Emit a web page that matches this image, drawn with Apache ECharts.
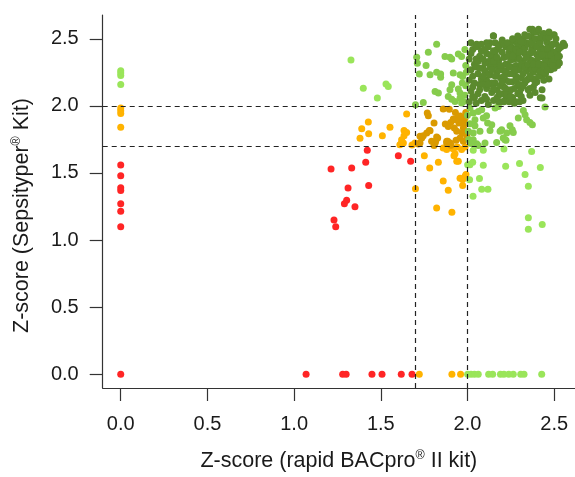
<!DOCTYPE html>
<html>
<head>
<meta charset="utf-8">
<script src="https://cdn.jsdelivr.net/npm/echarts@6/dist/echarts.min.js"></script>
<style>
html,body{margin:0;padding:0;background:#fff;}
#chart{width:575px;height:477px;}
</style>
</head>
<body>
<div id="chart"></div>
<script>
// Tick labels
const xTicks = [0, 0.5, 1.0, 1.5, 2.0, 2.5];
const yTicks = [0, 0.5, 1.0, 1.5, 2.0, 2.5];
// Cut-off lines
const xCutoffs = [1.7, 2.0];
const yCutoffs = [1.7, 2.0];
const xTitle = '{t|Z-score (rapid BACpro}{s|®}{t| II kit)}';
const yTitle = '{t|Z-score (Sepsityper}{s|®}{t| Kit)}';

// Points [rapid BACpro II z-score, Sepsityper z-score]
const redPts = [
  [0,1.56],[0,1.48],[0,1.39],[0,1.37],[0,1.27],[0,1.215],[0,1.10],[0,0],
  [1.069,0],[1.28,0],[1.30,0],[1.449,0],[1.507,0],[1.618,0],[1.68,0],
  [1.213,1.53],[1.332,1.538],[1.422,1.669],[1.413,1.58],[1.601,1.629],[1.672,1.587],
  [1.311,1.389],[1.43,1.406],[1.303,1.297],[1.29,1.27],[1.351,1.248],[1.23,1.149],[1.24,1.10]
];
const orangePts = [
  [0,1.984],[0,1.964],[0,1.944],[0,1.84],
  [1.722,0],[1.91,0],[1.96,0],
  [1.649,1.939],[1.428,1.88],[1.39,1.83],[1.43,1.793],[1.38,1.758],[1.509,1.778],[1.553,1.84],
  [1.634,1.817],[1.649,1.802],[1.634,1.778],[1.618,1.72],[1.68,1.709],[1.62,1.748],[1.63,1.724],
  [1.61,1.711],[1.697,1.724],
  [1.751,1.629],[1.832,1.58],[1.782,1.538],[1.70,1.382],[1.86,1.441],[1.889,1.371],[1.822,1.24],
  [1.91,1.208],[1.922,1.629],[1.938,1.587],[1.957,1.46],[1.972,1.451],[1.972,1.406],[1.986,1.475],
  [1.991,1.488],[1.909,1.686],[1.941,1.694],[1.986,1.694],[1.86,1.686],[1.88,1.674],[1.918,1.681],
  [1.966,1.674],[1.928,1.644],[1.947,1.587]
];
const goldPts = [
  [1.768,1.946],[1.774,1.926],[1.86,1.976],[1.807,1.872],[1.872,1.865],[1.889,1.847],[1.903,1.877],
  [1.918,1.902],[1.78,1.817],[1.765,1.798],[1.726,1.773],[1.745,1.778],[1.822,1.768],[1.813,1.724],
  [1.807,1.705],[1.88,1.736],[1.9,1.724],[1.928,1.897],[1.943,1.914],[1.966,1.904],[1.986,1.909],
  [1.951,1.872],[1.924,1.835],[1.976,1.835],[1.986,1.815],[1.97,1.798],[1.995,1.78],[1.784,1.815],
  [1.736,1.761],[1.828,1.761],[1.816,1.736],[1.886,1.736],[1.905,1.706],[1.938,1.81],[1.957,1.761],
  [1.976,1.736],[1.716,1.716],[1.895,1.975],[1.93,1.95],[1.958,1.925],[1.99,1.95],[1.985,1.87],
  [1.726,1.724],[1.793,1.736],[1.88,1.724],[1.934,1.743]
];
const lightGreenPts = [
  [0,2.261],[0,2.244],[0,2.226],[0,2.159],
  [1.328,2.342],[1.399,2.132],[1.48,2.058],[1.53,2.162],[1.543,2.144],
  [2.001,0],[2.02,0],[2.04,0],[2.062,0],[2.122,0],[2.145,0],[2.19,0],[2.21,0],[2.238,0],
  [2.264,0],[2.307,0],[2.326,0],[2.428,0],
  [2.033,1.669],[2.091,1.669],[2.21,1.679],[2.37,1.66],[2.014,1.562],[2.03,1.58],[2.001,1.562],
  [2.091,1.557],[2.22,1.55],[2.30,1.57],[2.42,1.54],[2.332,1.488],[2.012,1.449],[2.069,1.458],
  [2.082,1.378],[2.118,1.378],[2.351,1.401],[2.032,1.327],[2.351,1.166],[2.431,1.117],[2.351,1.08]
];
const midGreenPts = [
  [1.822,2.459],[1.774,2.40],[1.707,2.362],[1.711,2.318],[1.761,2.30],[1.87,2.367],[1.899,2.362],
  [1.909,2.35],[1.947,2.387],[1.966,2.367],[1.722,2.238],[1.784,2.231],[1.822,2.251],[1.845,2.238],
  [1.845,2.214],[1.918,2.244],[1.957,2.231],[1.972,2.218],[1.909,2.157],[1.899,2.12],[1.813,2.107],
  [1.832,2.095],[1.947,2.125],[1.957,2.095],[1.889,2.07],[1.909,2.05],[1.928,2.033],[1.957,2.058],
  [1.976,2.033],[1.966,2.021],[1.70,2.008],[1.745,2.025],[1.99,2.15],[1.985,2.08],[1.97,2.17],
  [1.99,2.30],[1.985,2.42],[1.993,2.25],
  [2.447,1.991],[2.322,1.966],[2.332,1.934],[2.293,1.909],[2.36,1.877],[2.374,1.86],[2.245,1.852],
  [2.258,1.822],[2.264,1.802],[2.197,1.822],[2.188,1.81],[2.116,1.872],[2.14,1.86],[2.11,1.926],
  [2.091,1.909],[2.033,1.946],[2.062,1.958],[2.082,1.971],[2.043,1.897],[2.014,1.867],[2.043,1.852],
  [2.005,1.81],[2.033,1.798],[2.072,1.81],[2.168,1.728],[2.216,1.748],[2.13,1.817],[2.053,1.718],
  [2.101,1.724],[2.014,1.984],[2.178,1.996],[2.159,1.984],[2.341,1.897],[2.226,1.798],[2.206,1.761],
  [2.0,1.93],[2.008,1.75],[2.02,1.72],[2.033,1.748],[2.062,1.704],[2.222,1.743]
];
const darkGreenPts = [
  [2.01,2.03],[2.02,2.11],[2.01,2.19],[2.02,2.27],[2.01,2.35],[2.03,2.42],[2.02,2.47],[2.04,2.06],[2.03,2.22],[2.04,2.31],
  [2.05,2.02],[2.06,2.09],[2.07,2.16],[2.06,2.24],[2.05,2.29],[2.07,2.37],[2.06,2.45],[2.08,2.04],[2.08,2.20],[2.09,2.28],[2.08,2.41],
  [2.10,2.07],[2.11,2.13],[2.12,2.01],[2.11,2.19],[2.10,2.26],[2.12,2.33],[2.11,2.39],[2.13,2.47],[2.13,2.23],[2.14,2.10],[2.15,2.52],[2.14,2.36],
  [2.15,2.04],[2.16,2.17],[2.17,2.25],[2.16,2.30],[2.17,2.42],[2.18,2.08],[2.18,2.34],[2.19,2.21],[2.19,2.46],[2.17,2.12],[2.16,2.38],
  [2.20,2.03],[2.21,2.14],[2.20,2.27],[2.22,2.19],[2.21,2.36],[2.22,2.44],[2.23,2.09],[2.23,2.31],[2.24,2.24],[2.24,2.40],[2.22,2.05],[2.20,2.49],
  [2.25,2.12],[2.26,2.18],[2.25,2.29],[2.27,2.35],[2.26,2.43],[2.28,2.03],[2.28,2.22],[2.27,2.48],[2.29,2.15],[2.29,2.38],[2.26,2.06],[2.28,2.30],
  [2.30,2.10],[2.31,2.21],[2.30,2.27],[2.32,2.33],[2.31,2.44],[2.32,2.50],[2.33,2.17],[2.33,2.39],[2.34,2.26],[2.34,2.47],[2.32,2.04],[2.31,2.13],
  [2.35,2.20],[2.36,2.29],[2.35,2.36],[2.37,2.42],[2.36,2.57],[2.38,2.14],[2.38,2.25],[2.37,2.51],[2.39,2.33],[2.39,2.45],[2.36,2.08],[2.38,2.55],
  [2.40,2.18],[2.41,2.27],[2.40,2.38],[2.42,2.31],[2.41,2.49],[2.43,2.22],[2.43,2.43],[2.44,2.36],[2.44,2.54],[2.42,2.06],[2.43,2.12],
  [2.45,2.24],[2.46,2.30],[2.45,2.41],[2.47,2.35],[2.46,2.47],[2.48,2.27],[2.48,2.44],[2.49,2.38],[2.50,2.53],[2.47,2.20],
  [2.51,2.33],[2.52,2.41],[2.51,2.46],[2.53,2.37],[2.55,2.46],[2.54,2.44],[2.52,2.30],[2.50,2.28],
  [2.13,2.29],[2.15,2.33],[2.18,2.27],[2.19,2.15],[2.21,2.22],[2.22,2.31],[2.23,2.37],[2.24,2.18],[2.25,2.34],[2.26,2.24],
  [2.27,2.40],[2.28,2.19],[2.29,2.27],[2.30,2.35],[2.31,2.31],[2.32,2.24],[2.33,2.29],[2.33,2.43],[2.34,2.19],[2.35,2.31],
  [2.35,2.46],[2.36,2.39],[2.37,2.27],[2.37,2.34],[2.38,2.20],[2.38,2.40],[2.39,2.28],[2.40,2.33],[2.40,2.44],[2.41,2.22],
  [2.41,2.36],[2.42,2.41],[2.42,2.26],[2.43,2.30],[2.44,2.25],[2.44,2.42],[2.45,2.33],[2.46,2.38],[2.47,2.42],[2.48,2.32],
  [2.49,2.35],[2.50,2.40],[2.29,2.45],[2.27,2.13],[2.24,2.11],[2.21,2.09],[2.18,2.03],[2.16,2.22],[2.14,2.17],[2.12,2.24],
  [2.10,2.32],[2.09,2.22],[2.07,2.28],[2.05,2.35],[2.03,2.14],[2.30,2.16],[2.36,2.13],[2.39,2.10],[2.26,2.37],[2.22,2.26],
  [2.21,2.03],[2.24,2.03],[2.27,2.02],[2.30,2.03],[2.43,2.058],[2.149,2.523],[2.11,2.47],[2.053,2.459],[2.245,2.466],
  [2.284,2.49],[2.322,2.478],[2.374,2.57],[2.389,2.553],[2.437,2.536],[2.495,2.528],[2.553,2.466],[2.524,2.33],[2.505,2.305],
  [2.02,2.39],[2.04,2.17],[2.05,2.44],[2.03,2.07],[2.06,2.33],[2.07,2.12],[2.08,2.46],[2.09,2.16],[2.09,2.35],[2.10,2.42],
  [2.11,2.05],[2.12,2.16],[2.12,2.44],[2.13,2.38],[2.14,2.27],[2.15,2.13],[2.15,2.41],[2.16,2.47],[2.17,2.06],[2.17,2.36],
  [2.18,2.44],[2.19,2.30],[2.19,2.09],[2.20,2.18],[2.20,2.40],[2.21,2.46],[2.22,2.13],[2.23,2.47],[2.24,2.29],[2.25,2.43],
  [2.25,2.07],[2.26,2.50],[2.27,2.27],[2.28,2.42],[2.29,2.09],[2.29,2.52],[2.30,2.40],[2.31,2.07],[2.31,2.48],[2.32,2.15],
  [2.33,2.53],[2.34,2.36],[2.35,2.12],[2.35,2.52],[2.36,2.22],[2.37,2.47],[2.38,2.31],[2.39,2.50],[2.39,2.17],[2.40,2.55],
  [2.41,2.31],[2.42,2.47],[2.42,2.51],[2.43,2.38],[2.44,2.30],[2.45,2.50],[2.46,2.27],[2.46,2.43],[2.47,2.51],[2.48,2.38],
  [2.49,2.46],[2.49,2.30],[2.50,2.35],[2.51,2.50],[2.52,2.36],[2.53,2.43],[2.56,2.45],[2.53,2.32],[2.47,2.55],[2.41,2.57],[2.44,2.19]
];

const font = 'Liberation Sans, Arial, Helvetica, sans-serif';
const textColor = '#1a1a1a';
const axisColor = '#333';

function scatter(name, data, color) {
  return {
    name: name, type: 'scatter', data: data, symbol: 'circle', symbolSize: 7,
    itemStyle: { color: color, opacity: 1 }, silent: true
  };
}

const richTitle = {
  t: { fontSize: 21.5, fontFamily: font, color: textColor, lineHeight: 24 },
  s: { fontSize: 12.5, fontFamily: font, color: textColor, verticalAlign: 'top', lineHeight: 14 }
};

const chart = echarts.init(document.getElementById('chart'), null, { renderer: 'canvas' });
const series = [
  scatter('red', redPts, '#FF2525'),
  scatter('orange', orangePts, '#FFB300'),
  scatter('gold', goldPts, '#DA9A00'),
  scatter('lightgreen', lightGreenPts, '#9AE55A'),
  scatter('midgreen', midGreenPts, '#86CC4C'),
  scatter('darkgreen', darkGreenPts, '#5B8A2E')
];
series.push({
  type: 'scatter', data: [], silent: true, z: 10,
  markLine: {
    silent: true, symbol: ['none', 'none'], animation: false,
    label: { show: false },
    lineStyle: { type: [5, 4], color: '#222', width: 1.2 },
    data: xCutoffs.map(v => ({ xAxis: v })).concat(yCutoffs.map(v => ({ yAxis: v })))
  }
});

chart.setOption({
  animation: false,
  backgroundColor: '#fff',
  grid: { left: 102.7, right: 0, top: 15, bottom: 88, containLabel: false },
  xAxis: {
    type: 'value', min: -0.104, max: 2.62,
    splitLine: { show: false },
    axisLine: { show: true, onZero: false, lineStyle: { color: axisColor, width: 1.2 } },
    axisTick: { show: true, inside: false, length: 13, customValues: xTicks, lineStyle: { color: axisColor, width: 1.2 } },
    axisLabel: { customValues: xTicks, formatter: v => v.toFixed(1), fontSize: 20, fontFamily: font, color: textColor, margin: 26 },
    name: xTitle, nameLocation: 'middle', nameGap: 61,
    nameTextStyle: { fontSize: 21.5, fontFamily: font, color: textColor, rich: richTitle }
  },
  yAxis: {
    type: 'value', min: -0.102, max: 2.677,
    splitLine: { show: false },
    axisLine: { show: true, onZero: false, lineStyle: { color: axisColor, width: 1.2 } },
    axisTick: { show: true, inside: false, length: 13, customValues: yTicks, lineStyle: { color: axisColor, width: 1.2 } },
    axisLabel: { customValues: yTicks, formatter: v => v.toFixed(1), fontSize: 20, fontFamily: font, color: textColor, margin: 24 },
    name: yTitle, nameLocation: 'middle', nameGap: 69, nameRotate: 90,
    nameTextStyle: { fontSize: 21.5, fontFamily: font, color: textColor, rich: richTitle, padding: [0, 28, 0, 0] }
  },
  series: series
});
</script>
</body>
</html>
